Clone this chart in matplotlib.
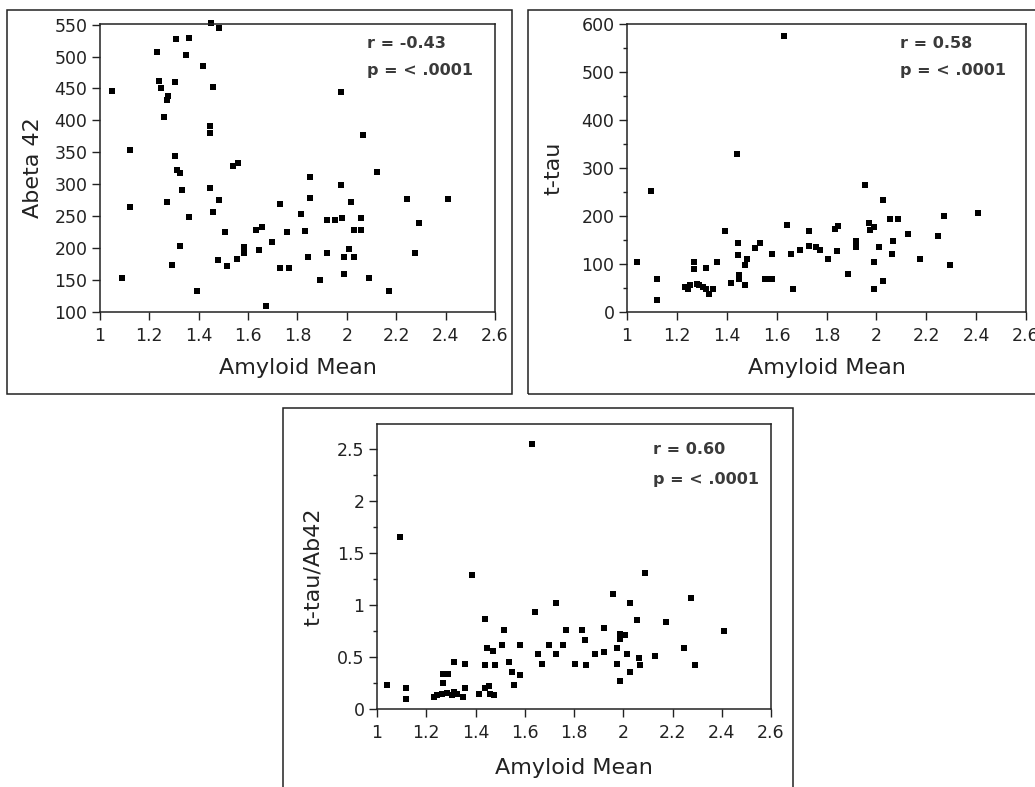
import matplotlib
matplotlib.use("Agg")
from matplotlib import pyplot as plt
from matplotlib.patches import Rectangle
from matplotlib.ticker import MultipleLocator, FormatStrFormatter
import numpy as np

plt.rcParams['font.family'] = ['DejaVu Sans']

W, H = 1035, 787

# Abeta 42 vs amyloid mean
amy1 = [1.05, 1.09, 1.12, 1.12, 1.23, 1.24, 1.247, 1.274, 1.27, 1.259, 1.27, 1.293, 1.308, 1.304, 1.304,
        1.31, 1.324, 1.331, 1.324, 1.347, 1.362, 1.362, 1.393, 1.419, 1.451, 1.483, 1.456, 1.446, 1.446,
        1.446, 1.456, 1.483, 1.477, 1.506, 1.516, 1.537, 1.558, 1.554, 1.585, 1.585, 1.632, 1.658, 1.645,
        1.672, 1.698, 1.729, 1.729, 1.767, 1.756, 1.813, 1.832, 1.851, 1.851, 1.844, 1.891, 1.921, 1.952,
        1.921, 1.976, 1.976, 1.982, 1.99, 1.99, 2.009, 2.015, 2.03, 2.03, 2.057, 2.057, 2.066, 2.091,
        2.12, 2.172, 2.242, 2.276, 2.294, 2.408]
abeta = [446, 154, 353, 265, 507, 462, 450, 439, 432, 405, 272, 174, 527, 460, 344,
         322, 317, 291, 204, 502, 529, 248, 133, 485, 553, 545, 452, 391, 380,
         294, 257, 275, 182, 225, 172, 329, 334, 183, 202, 193, 229, 233, 197,
         110, 210, 269, 169, 169, 225, 254, 227, 312, 279, 186, 150, 244, 244,
         192, 445, 299, 247, 186, 160, 199, 272, 229, 186, 247, 229, 377, 154,
         320, 133, 277, 193, 240, 277]

# t-tau vs amyloid mean
amy2 = [1.04, 1.095, 1.122, 1.122, 1.231, 1.245, 1.251, 1.269, 1.269, 1.282, 1.29, 1.305, 1.316, 1.316,
        1.33, 1.345, 1.361, 1.392, 1.416, 1.443, 1.445, 1.445, 1.449, 1.449, 1.472, 1.483, 1.475, 1.512,
        1.532, 1.552, 1.562, 1.582, 1.582, 1.63, 1.64, 1.656, 1.667, 1.693, 1.728, 1.728, 1.756, 1.773,
        1.807, 1.833, 1.846, 1.842, 1.886, 1.92, 1.92, 1.955, 1.971, 1.974, 1.991, 1.99, 1.99, 2.011,
        2.027, 2.027, 2.054, 2.087, 2.068, 2.061, 2.128, 2.175, 2.248, 2.272, 2.295, 2.406]
ttau = [105, 253, 68, 24, 52, 47, 56, 105, 89, 59, 56, 52, 91, 47,
        38, 47, 105, 169, 61, 330, 145, 119, 77, 68, 99, 110, 57, 133,
        145, 68, 68, 68, 122, 576, 181, 122, 49, 129, 169, 138, 135, 129,
        110, 173, 179, 128, 79, 149, 136, 265, 186, 171, 178, 105, 49, 136,
        234, 65, 195, 195, 149, 122, 162, 110, 158, 201, 99, 206]

# t-tau/Ab42 vs amyloid mean
amy3 = [1.04, 1.095, 1.119, 1.119, 1.23, 1.244, 1.267, 1.267, 1.288, 1.264, 1.284, 1.305, 1.311, 1.314,
        1.325, 1.349, 1.356, 1.359, 1.386, 1.413, 1.437, 1.437, 1.44, 1.447, 1.456, 1.458, 1.471, 1.474,
        1.48, 1.508, 1.517, 1.535, 1.548, 1.555, 1.579, 1.582, 1.629, 1.643, 1.654, 1.67, 1.697, 1.727,
        1.726, 1.754, 1.768, 1.805, 1.832, 1.846, 1.85, 1.887, 1.921, 1.921, 1.957, 1.975, 1.975, 1.986,
        1.988, 1.988, 2.008, 2.015, 2.029, 2.029, 2.056, 2.065, 2.067, 2.087, 2.13, 2.175, 2.248, 2.276,
        2.293, 2.408]
ratio = [0.23, 1.65, 0.20, 0.10, 0.12, 0.13, 0.25, 0.34, 0.34, 0.14, 0.15, 0.13, 0.45, 0.16,
         0.14, 0.12, 0.20, 0.43, 1.29, 0.14, 0.87, 0.42, 0.20, 0.59, 0.22, 0.14, 0.56, 0.13,
         0.42, 0.62, 0.76, 0.45, 0.36, 0.23, 0.33, 0.62, 2.55, 0.93, 0.53, 0.43, 0.62, 1.02,
         0.53, 0.62, 0.76, 0.43, 0.76, 0.66, 0.42, 0.53, 0.78, 0.55, 1.11, 0.59, 0.43, 0.72,
         0.67, 0.27, 0.71, 0.53, 1.02, 0.36, 0.86, 0.49, 0.42, 1.31, 0.51, 0.84, 0.59, 1.07,
         0.42, 0.75]

ann_color = "#3a3a3a"


def frac(x0, y0, x1, y1):
    # pixel box (top-left origin) -> figure fraction rect
    return [x0 / W, 1 - y1 / H, (x1 - x0) / W, (y1 - y0) / H]


def panel(fig, box, rect, x, y, ylim, major, minor, ylabel, rtext, ylab_x, xlab_y, txt_x, txt_y):
    fig.patches.append(Rectangle((box[0] / W, 1 - box[3] / H), (box[2] - box[0]) / W, (box[3] - box[1]) / H,
                                 transform=fig.transFigure, fill=False, lw=1.1, ec="#222222"))
    ax = fig.add_axes(frac(*rect))
    ax.plot(x, y, "s", color="black", ms=3.9, mew=0, clip_on=False)
    ax.set_xlim(1, 2.6)
    ax.set_ylim(*ylim)
    ax.yaxis.set_major_locator(MultipleLocator(major))
    ax.yaxis.set_major_formatter(FormatStrFormatter("%g"))
    if minor:
        ax.yaxis.set_minor_locator(MultipleLocator(minor))
    ax.set_xticks(np.arange(1, 2.61, 0.2))
    ax.set_xticklabels(["1", "1.2", "1.4", "1.6", "1.8", "2", "2.2", "2.4", "2.6"])
    ax.tick_params(axis="both", which="major", direction="out", length=6, width=1, labelsize=12.5, colors="#222222")
    ax.tick_params(axis="x", which="major", pad=5)
    ax.tick_params(axis="y", which="major", pad=3)
    ax.tick_params(axis="y", which="minor", direction="out", length=3, width=1, colors="#222222")
    for s in ax.spines.values():
        s.set_linewidth(1.1)
        s.set_color("#222222")
    ax.set_xlabel("Amyloid Mean", fontsize=16, color="#222222", va="center")
    ax.set_ylabel(ylabel, fontsize=16, color="#222222", va="center")
    ax.xaxis.set_label_coords(0.5, xlab_y)
    ax.yaxis.set_label_coords(ylab_x, 0.5)
    ax.text(txt_x, txt_y[0], rtext, transform=ax.transAxes, fontsize=11.5, fontweight="bold",
            color=ann_color, va="center", ha="left")
    ax.text(txt_x, txt_y[1], "p = < .0001", transform=ax.transAxes, fontsize=11.5, fontweight="bold",
            color=ann_color, va="center", ha="left")
    return ax


fig = plt.figure(figsize=(W / 100, H / 100), dpi=100)

panel(fig, (7, 10, 512, 394), (100, 24, 495, 312), amy1, abeta, (100, 551), 50, None, "Abeta 42",
      "r = -0.43", -0.17, -0.194, 0.676, (0.934, 0.837))
panel(fig, (528, 10, 1045, 394), (627, 24, 1026, 312), amy2, ttau, (0, 601), 100, 50, "t-tau",
      "r = 0.58", -0.185, -0.194, 0.684, (0.934, 0.837))
panel(fig, (283, 408, 793, 800), (377, 424, 771, 709), amy3, ratio, (0, 2.74), 0.5, 0.25, "t-tau/Ab42",
      "r = 0.60", -0.162, -0.207, 0.70, (0.909, 0.804))

fig.savefig("out.png", dpi=100)
